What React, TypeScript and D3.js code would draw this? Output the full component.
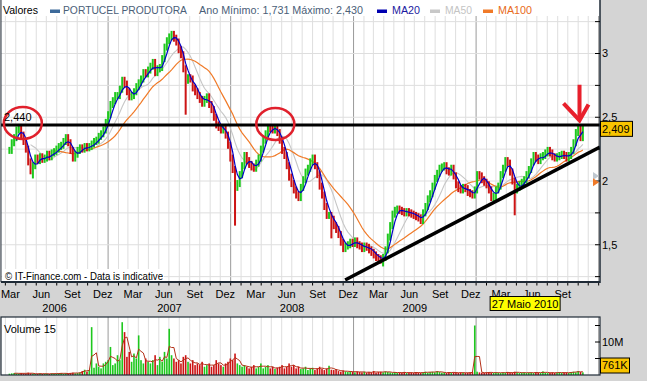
import React from 'react';
import * as d3 from 'd3';

// ---------- DATA ----------
const WEEK_START = '2006-03-13';
// weekly closing prices (EUR)
const closes: number[] = [
  2.24, 2.30, 2.34, 2.40, 2.42, 2.36, 2.31, 2.25, 2.15, 2.08,
  2.12, 2.18, 2.16, 2.19, 2.17, 2.18, 2.21, 2.19, 2.22, 2.23,
  2.25, 2.27, 2.28, 2.31, 2.34, 2.30, 2.24, 2.18, 2.21, 2.24,
  2.26, 2.25, 2.27, 2.26, 2.27, 2.29, 2.31, 2.32, 2.35, 2.37,
  2.40, 2.46, 2.52, 2.60, 2.63, 2.67, 2.67, 2.72, 2.79, 2.76,
  2.70, 2.66, 2.67, 2.70, 2.74, 2.77, 2.80, 2.85, 2.84, 2.87,
  2.90, 2.93, 2.85, 2.88, 2.89, 2.96, 3.05, 3.10, 3.13, 3.15,
  3.12, 3.09, 3.03, 2.99, 2.88, 2.79, 2.81, 2.80, 2.73, 2.70,
  2.67, 2.64, 2.61, 2.64, 2.66, 2.60, 2.56, 2.50, 2.44, 2.42,
  2.40, 2.41, 2.36, 2.28, 2.18, 2.09, 1.95, 1.98, 2.05, 2.12,
  2.20, 2.16, 2.13, 2.11, 2.10, 2.14, 2.18, 2.25, 2.32, 2.37,
  2.42, 2.41, 2.40, 2.42, 2.38, 2.32, 2.24, 2.20, 2.12, 2.03,
  1.98, 1.93, 1.89, 1.87, 1.95, 2.01, 2.07, 2.10, 2.15, 2.18,
  2.12, 2.05, 1.96, 1.89, 1.80, 1.73, 1.73, 1.70, 1.65, 1.62,
  1.58, 1.52, 1.47, 1.49, 1.50, 1.52, 1.51, 1.53, 1.50, 1.49,
  1.47, 1.49, 1.48, 1.46, 1.44, 1.42, 1.40, 1.39, 1.38, 1.40,
  1.46, 1.56, 1.65, 1.74, 1.77, 1.78, 1.77, 1.76, 1.75, 1.76,
  1.75, 1.74, 1.73, 1.72, 1.71, 1.69, 1.75, 1.80, 1.86, 1.90,
  1.96, 2.02, 2.06, 2.10, 2.11, 2.12, 2.08, 2.07, 2.10, 2.04,
  1.97, 1.94, 1.93, 1.95, 1.94, 1.91, 1.90, 1.89, 1.93, 2.05,
  2.04, 2.01, 1.99, 1.97, 1.93, 1.87, 1.88, 1.93, 1.96, 2.05,
  2.10, 2.16, 2.14, 2.07, 2.00, 1.93, 1.95, 1.97, 1.99, 2.01,
  2.05, 2.09, 2.15, 2.20, 2.18, 2.16, 2.19, 2.20, 2.22, 2.24,
  2.22, 2.19, 2.18, 2.19, 2.20, 2.21, 2.20, 2.18, 2.20, 2.24,
  2.30, 2.38, 2.42, 2.34, 2.409,
];
// weekly volume (millions of shares)
const volumes: number[] = [
  0.4, 0.5, 0.6, 0.5, 0.4, 0.6, 0.5, 0.4, 0.7, 0.5,
  0.4, 0.3, 0.4, 0.5, 0.3, 0.4, 0.4, 0.3, 0.5, 0.4,
  0.4, 0.5, 0.6, 0.4, 0.5, 0.4, 0.6, 0.7, 0.5, 0.6,
  0.8, 1.2, 1.6, 1.0, 1.5, 14.5, 2.2, 3.5, 2.5, 2.0,
  3.5, 4.0, 4.5, 8.5, 3.0, 3.5, 6.0, 4.5, 16.0, 13.0,
  5.5, 7.0, 4.0, 6.5, 5.0, 12.0, 4.5, 3.5, 5.0, 4.0,
  3.5, 4.5, 6.0, 3.0, 5.5, 4.0, 7.0, 5.0, 14.0, 6.0,
  5.0, 4.0, 4.5, 3.5, 5.5, 6.0, 4.0, 3.5, 4.5, 3.0,
  3.5, 3.0, 4.0, 2.5, 3.0, 3.5, 2.5, 3.0, 4.5, 3.5,
  3.0, 2.5, 3.5, 4.0, 5.0, 4.5, 6.5, 3.5, 3.0, 2.5,
  3.0, 2.5, 2.0, 2.5, 3.0, 2.0, 2.5, 3.5, 2.0, 2.5,
  3.0, 2.0, 2.5, 1.8, 2.2, 2.5, 3.0, 2.0, 2.5, 3.5,
  2.5, 3.0, 2.0, 2.5, 1.8, 2.0, 2.5, 1.5, 2.0, 2.2,
  1.5, 2.0, 2.5, 1.8, 1.5, 2.0, 2.8, 1.6, 1.5, 1.8,
  1.2, 1.0, 1.4, 1.1, 0.9, 1.2, 1.0, 0.8, 1.1, 0.9,
  0.8, 1.0, 0.7, 0.9, 0.8, 1.2, 0.7, 0.9, 1.0, 0.8,
  1.1, 0.9, 0.8, 0.7, 0.9, 0.6, 0.8, 0.7, 0.9, 0.6,
  0.7, 0.8, 0.6, 0.9, 0.7, 0.6, 0.8, 1.0, 0.7, 0.9,
  1.0, 0.8, 1.2, 0.9, 0.7, 0.8, 0.6, 0.9, 0.7, 0.8,
  0.7, 0.6, 0.8, 0.7, 0.6, 0.7, 0.8, 0.9, 15.0, 1.0,
  0.8, 0.7, 0.6, 0.8, 0.9, 0.7, 0.6, 0.8, 0.7, 0.6,
  0.8, 0.7, 0.9, 0.6, 0.7, 1.0, 0.8, 0.6, 0.7, 0.8,
  0.6, 0.7, 0.8, 0.6, 0.9, 0.7, 0.6, 1.1, 0.7, 0.6,
  0.7, 0.8, 0.6, 0.7, 0.9, 0.6, 0.7, 0.8, 0.6, 0.9,
  1.0, 0.8, 1.2, 0.9, 0.8,
];
const spikeWeeks = [10, 75, 96, 137, 159, 215];
const spikeLows = [2.02, 2.52, 1.65, 1.55, 1.33, 1.731];

const priceTicks = [1.5, 2, 2.5, 3];
const gridLevels = [1.25, 1.5, 1.75, 2, 2.25, 2.5, 2.75, 3, 3.25];
const volumeTicks = [5, 10, 15];
const monthNames = ['Jan', 'Fev', 'Mar', 'Abr', 'Mai', 'Jun', 'Jul', 'Ago', 'Set', 'Out', 'Nov', 'Dez'];
const labeledMonths = [2, 5, 8, 11];
const yearLabels = [2006, 2007, 2008, 2009];

const supportLevel = 2.44;
const trendDates = ['2008-12-07', '2011-01-05'];
const trendValues = [1.224, 2.267];
const circleDates = ['2006-04-22', '2008-05-13'];
const circleValues = [2.455, 2.447];
const arrowDate = '2010-11-05';
const arrowValues = [2.755, 2.475];
const markerDate = '2010-05-27';
const markerText = '27 Maio 2010';
const maMarkerValues = [2.04, 1.99];
const lastVolumeText = '761K';

const legendTitle = 'Valores';
const seriesName = 'PORTUCEL PRODUTORA';
const rangeText = 'Ano Mínimo: 1,731 Máximo: 2,430';

// ---------- CHART ----------
const FONT = '"Liberation Sans", Arial, sans-serif';
const UP = '#1ec81e';
const DOWN = '#cc1414';

export default function App() {
  const parse = d3.timeParse('%Y-%m-%d');
  const start = parse(WEEK_START) as Date;
  const dates = closes.map((_, i) => d3.timeDay.offset(start, 7 * i));
  const left = 1, right = 600;
  const x = d3.scaleTime().domain([new Date(2006, 1, 16), new Date(2011, 0, 5)]).range([left, right]);
  const y = d3.scaleLinear().domain([2, 3]).range([181, 53.5]);
  const yv = d3.scaleLinear().domain([0, 10]).range([375, 342]);
  const loc = d3.formatLocale({ decimal: ',', thousands: '.', grouping: [3], currency: ['€', ''] });
  const fmt = loc.format('.3f');
  const fmtTick = (v: number) => loc.format('')(v);

  const ma = (arr: number[], n: number) =>
    arr.map((_, i) => (i < n - 1 ? null : (d3.mean(arr.slice(i - n + 1, i + 1)) as number)));
  const line = d3
    .line<[Date, number | null]>()
    .defined((d) => d[1] != null)
    .x((d) => x(d[0]))
    .y((d) => y(d[1] as number));
  const vline = d3
    .line<[Date, number | null]>()
    .defined((d) => d[1] != null)
    .x((d) => x(d[0]))
    .y((d) => yv(d[1] as number));
  const ma20 = ma(closes, 4);
  const ma50 = ma(closes, 10);
  const ma100 = ma(closes, 20);
  const vma = ma(volumes, 3);
  const zip = (a: (number | null)[]) => dates.map((d, i) => [d, a[i]] as [Date, number | null]);

  const months = d3.timeMonth.range(new Date(2006, 2, 1), new Date(2011, 0, 2));
  const domain = x.domain();

  const bars = closes.map((c, i) => {
    const o = i === 0 ? c : closes[i - 1];
    const up = c >= o;
    const top = y(Math.max(o, c)) - 3.5;
    let bot = y(Math.min(o, c)) + 3.5;
    const si = spikeWeeks.indexOf(i);
    if (si >= 0) bot = Math.max(bot, y(spikeLows[si]));
    return { d: dates[i], up, top, bot };
  });

  const lastClose = closes[closes.length - 1];
  const ax = x(parse(arrowDate) as Date);
  const ay0 = y(arrowValues[0]);
  const ay1 = y(arrowValues[1]);
  const mx = x(parse(markerDate) as Date);

  const legendText = (t: string, xx: number, len: number, fill: string) => (
    <text x={xx} y={14} fontSize={11} fill={fill} textLength={len} lengthAdjust="spacingAndGlyphs">{t}</text>
  );

  return (
    <div style={{ position: 'fixed', left: 0, top: 0 }}>
      <svg width={647} height={381} style={{ display: 'block', fontFamily: FONT }}>
        <defs>
          <clipPath id="mainclip">
            <rect x={left} y={16} width={right - left} height={266} />
          </clipPath>
          <clipPath id="volclip">
            <rect x={left} y={317} width={right - left} height={58} />
          </clipPath>
        </defs>
        <rect x={0} y={0} width={647} height={381} fill="#d4d4d4" />
        {/* main panel */}
        <rect x={left} y={0} width={right - left} height={282} fill="#ffffff" />
        <g>
          {months.map((m, i) => (
            <line key={'mg' + i} x1={x(m)} x2={x(m)} y1={16} y2={282}
              stroke={m.getMonth() === 0 ? '#9a9a9a' : '#dedede'} strokeWidth={1} />
          ))}
          {gridLevels.map((v, i) => (
            <line key={'hg' + i} x1={left} x2={right} y1={y(v)} y2={y(v)} stroke="#dedede" strokeWidth={1} />
          ))}
        </g>
        <g clipPath="url(#mainclip)">
          <path d={line(zip(ma50)) || ''} fill="none" stroke="#c6c6c6" strokeWidth={1.1} />
          <path d={line(zip(ma100)) || ''} fill="none" stroke="#f07a28" strokeWidth={1.2} />
          {bars.map((b, i) => (
            <rect key={'b' + i} x={x(b.d) - 1} y={b.top} width={2} height={b.bot - b.top}
              fill={b.up ? UP : DOWN} />
          ))}
          <path d={line(zip(ma20)) || ''} fill="none" stroke="#0000c8" strokeWidth={1.2} />
          <line x1={left} x2={right} y1={y(supportLevel)} y2={y(supportLevel)} stroke="#000" strokeWidth={3} />
          <line x1={x(parse(trendDates[0]) as Date)} y1={y(trendValues[0])}
            x2={x(parse(trendDates[1]) as Date)} y2={y(trendValues[1])} stroke="#000" strokeWidth={3.5} />
          {circleDates.map((cd, i) => (
            <ellipse key={'c' + i} cx={x(parse(cd) as Date)} cy={y(circleValues[i])} rx={19} ry={16}
              fill="none" stroke="#e0202c" strokeWidth={2.5} />
          ))}
          <g stroke="#e8202c" strokeWidth={4} fill="none" strokeLinecap="butt" strokeLinejoin="miter">
            <line x1={ax} x2={ax} y1={ay0} y2={ay1 - 2} />
            <polyline points={`${ax - 16},${ay1 - 17} ${ax},${ay1} ${ax + 9},${ay1 - 16}`} />
          </g>
        </g>
        <text x={4} y={121} fontSize={11} fill="#000">{fmt(supportLevel)}</text>
        <rect x={2} y={269} width={162} height={12} fill="#fff" />
        <text x={5} y={279.5} fontSize={11} fill="#000" textLength={158} lengthAdjust="spacingAndGlyphs">© IT-Finance.com - Data is indicative</text>
        {/* legend */}
        <rect x={left} y={0} width={right - left} height={16} fill="#fff" />
        {legendText(legendTitle, 3, 35, '#000')}
        <rect x={50} y={9.5} width={10} height={3.5} fill="#3d6a9a" />
        {legendText(seriesName, 63, 124, '#4a6078')}
        {legendText(rangeText, 199, 164, '#4a6078')}
        <rect x={377} y={9.5} width={10} height={3.5} fill="#0000b0" />
        {legendText('MA20', 392, 28, '#1a1aa0')}
        <rect x={430} y={9.5} width={10} height={3.5} fill="#c8c8c8" />
        {legendText('MA50', 445, 27, '#c4c4c4')}
        <rect x={483} y={9.5} width={10} height={3.5} fill="#f07a28" />
        {legendText('MA100', 498, 34, '#e86a20')}
        {/* panel borders */}
        <line x1={left} x2={left} y1={0} y2={282} stroke="#2a3440" strokeWidth={1} />
        <line x1={right} x2={right} y1={0} y2={283} stroke="#1e2a36" strokeWidth={1.5} />
        <line x1={left} x2={right} y1={282} y2={282} stroke="#1e2a36" strokeWidth={2} />
        {/* right axis */}
        {gridLevels.map((v, i) => (
          <line key={'rt' + i} x1={right - 5} x2={right} y1={y(v)} y2={y(v)} stroke="#000" strokeWidth={1} />
        ))}
        {priceTicks.map((v, i) => (
          <text key={'rl' + i} x={602} y={y(v)} dy="0.35em" fontSize={11} fill="#000">{fmtTick(v)}</text>
        ))}
        <polygon points={`593,${y(maMarkerValues[0]) - 4} 599,${y(maMarkerValues[0])} 593,${y(maMarkerValues[0]) + 4}`} fill="#c0c8d0" />
        <polygon points={`593,${y(maMarkerValues[1]) - 4} 599,${y(maMarkerValues[1])} 593,${y(maMarkerValues[1]) + 4}`} fill="#f07a28" />
        <rect x={600.5} y={y(lastClose) - 7.5} width={32} height={15} fill="#f8c400" stroke="#000" strokeWidth={1} />
        <text x={602} y={y(lastClose)} dy="0.35em" fontSize={11} fill="#000">{fmt(lastClose)}</text>
        {/* bottom axis */}
        {months.map((m, i) => (
          <line key={'bt' + i} x1={x(m)} x2={x(m)} y1={283} y2={285.5} stroke="#000" strokeWidth={1} />
        ))}
        {months
          .filter((m) => labeledMonths.includes(m.getMonth()) && x(d3.timeDay.offset(m, 15)) < 585)
          .map((m, i) => (
            <text key={'ml' + i} x={x(d3.timeDay.offset(m, 15))} y={298} fontSize={11} textAnchor="middle" fill="#000">
              {monthNames[m.getMonth()]}
            </text>
          ))}
        {yearLabels.map((yr, i) => {
          const a = Math.max(+domain[0], +new Date(yr, 0, 1));
          const b = Math.min(+domain[1], +new Date(yr + 1, 0, 1));
          return (
            <text key={'yl' + i} x={(x(new Date(a)) + x(new Date(b))) / 2} y={312} fontSize={11} textAnchor="middle" fill="#000">
              {yr}
            </text>
          );
        })}
        <rect x={mx - 35} y={296.5} width={70} height={14} fill="#ffff00" stroke="#000" strokeWidth={1} />
        <text x={mx} y={307.5} fontSize={11} textAnchor="middle" fill="#000">{markerText}</text>
        {/* volume panel */}
        <rect x={left} y={317} width={right - left} height={58} fill="#fff" />
        {months.map((m, i) => (
          <line key={'vg' + i} x1={x(m)} x2={x(m)} y1={317} y2={375}
            stroke={m.getMonth() === 0 ? '#9a9a9a' : '#dedede'} strokeWidth={1} />
        ))}
        <g clipPath="url(#volclip)">
          {volumes.map((v, i) => (
            <rect key={'v' + i} x={x(dates[i]) - 0.8} y={yv(v)} width={1.6} height={375 - yv(v)}
              fill={bars[i].up ? UP : DOWN} />
          ))}
          <path d={vline(zip(vma)) || ''} fill="none" stroke="#b43018" strokeWidth={1} />
        </g>
        <rect x={left} y={317} width={right - left} height={58} fill="none" stroke="#1e2a36" strokeWidth={1.2} />
        <text x={4} y={333} fontSize={11} fill="#000">Volume 15</text>
        {volumeTicks.map((v, i) => (
          <line key={'vt' + i} x1={right - 5} x2={right} y1={yv(v)} y2={yv(v)} stroke="#000" strokeWidth={1} />
        ))}
        <text x={602} y={yv(10)} dy="0.35em" fontSize={11} fill="#000">10M</text>
        <rect x={600.5} y={358} width={29} height={15} fill="#f8c400" stroke="#000" strokeWidth={1} />
        <text x={602} y={365.5} dy="0.35em" fontSize={11} fill="#000">{lastVolumeText}</text>
      </svg>
    </div>
  );
}
